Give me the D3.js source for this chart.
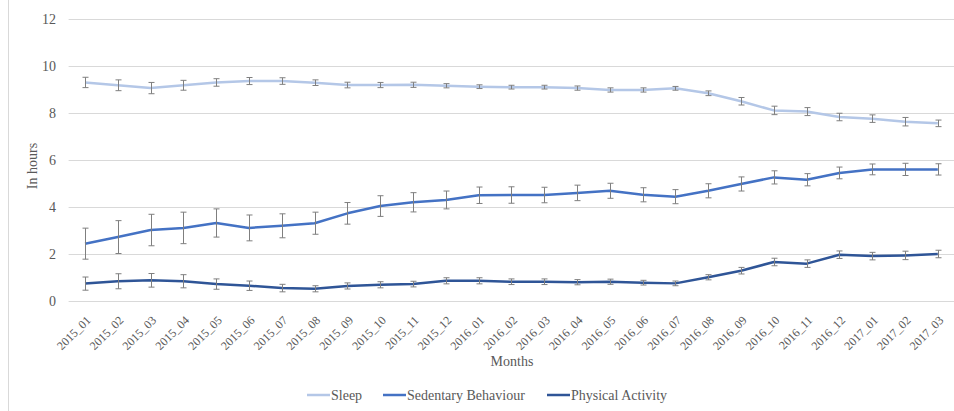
<!DOCTYPE html>
<html>
<head>
<meta charset="utf-8">
<script src="https://cdn.jsdelivr.net/npm/d3@7"></script>
<style>
  html, body { margin: 0; padding: 0; background: #fff; }
  svg { display: block; font-family: "Liberation Serif", "Times New Roman", serif; }
</style>
</head>
<body>
<svg id="chart" width="954" height="411"></svg>
<script>
// Monthly categories
const months = [
  "2015_01","2015_02","2015_03","2015_04","2015_05","2015_06","2015_07","2015_08","2015_09",
  "2015_10","2015_11","2015_12","2016_01","2016_02","2016_03","2016_04","2016_05","2016_06",
  "2016_07","2016_08","2016_09","2016_10","2016_11","2016_12","2017_01","2017_02","2017_03"
];

// Mean hours per month
const sleep = [9.30,9.18,9.06,9.18,9.30,9.36,9.36,9.29,9.19,9.19,9.20,9.16,9.12,9.10,9.10,9.06,8.98,8.98,
               9.05,8.84,8.50,8.11,8.06,7.83,7.76,7.63,7.56];
const sedentary = [2.44,2.72,3.02,3.11,3.32,3.11,3.20,3.31,3.73,4.04,4.20,4.30,4.50,4.51,4.51,4.60,4.69,4.52,
                   4.44,4.69,4.98,5.26,5.16,5.45,5.60,5.60,5.60];
const physical = [0.74,0.84,0.88,0.84,0.72,0.65,0.55,0.52,0.64,0.69,0.72,0.86,0.86,0.82,0.82,0.80,0.82,0.78,
                  0.75,1.01,1.29,1.66,1.59,1.97,1.91,1.94,2.00];

// Error margins (half-widths) per month
const sleepErr = [0.22,0.23,0.24,0.21,0.16,0.15,0.14,0.12,0.12,0.11,0.11,0.09,0.08,0.08,0.08,0.09,0.09,0.09,
                  0.08,0.10,0.16,0.18,0.17,0.16,0.16,0.18,0.14];
const sedentaryErr = [0.66,0.70,0.67,0.67,0.60,0.55,0.51,0.47,0.46,0.44,0.41,0.38,0.35,0.35,0.33,0.33,0.32,0.30,
                      0.30,0.30,0.30,0.28,0.26,0.25,0.23,0.26,0.24];
const physicalErr = [0.28,0.32,0.29,0.28,0.22,0.20,0.16,0.13,0.13,0.13,0.12,0.13,0.13,0.12,0.12,0.11,0.11,0.10,
                     0.10,0.11,0.14,0.16,0.16,0.16,0.16,0.18,0.16];

const yTicks = [0, 2, 4, 6, 8, 10, 12];
const seriesNames = ["Sleep", "Sedentary Behaviour", "Physical Activity"];
const seriesColors = ["#b4c7e7", "#4472c4", "#2f5597"];

const series = [
  { name: seriesNames[0], values: sleep, err: sleepErr, color: seriesColors[0] },
  { name: seriesNames[1], values: sedentary, err: sedentaryErr, color: seriesColors[1] },
  { name: seriesNames[2], values: physical, err: physicalErr, color: seriesColors[2] }
];

const svg = d3.select("#chart");
const textColor = "#595959";

// Outer chart frame edge
svg.append("line").attr("x1", 8.5).attr("x2", 8.5).attr("y1", 0).attr("y2", 411)
  .attr("stroke", "#d9d9d9").attr("stroke-width", 1);

const plot = { left: 68.6, right: 954.2, top: 19, bottom: 301 };

const x = d3.scalePoint().domain(months).range([plot.left, plot.right]).padding(0.5);
const y = d3.scaleLinear().domain([0, 12]).range([plot.bottom, plot.top]);

// Horizontal gridlines
svg.append("g").selectAll("line").data(yTicks).join("line")
  .attr("x1", plot.left).attr("x2", plot.right)
  .attr("y1", d => Math.round(y(d)) + 0.5).attr("y2", d => Math.round(y(d)) + 0.5)
  .attr("stroke", "#d9d9d9").attr("stroke-width", 1);

// Y axis labels
const yAxis = d3.axisLeft(y).tickValues(yTicks).tickSize(0).tickPadding(0);
svg.append("g").attr("transform", `translate(56,0)`).call(yAxis)
  .call(g => g.select(".domain").remove())
  .call(g => g.selectAll("text").attr("fill", textColor).attr("font-size", 14)
    .attr("font-family", "Liberation Serif, serif"));

// X axis labels, rotated
const xAxis = d3.axisBottom(x).tickSize(0).tickPadding(0);
svg.append("g").attr("transform", `translate(0,${plot.bottom})`).call(xAxis)
  .call(g => g.select(".domain").remove())
  .call(g => g.selectAll("text")
    .attr("fill", textColor).attr("font-size", 12)
    .attr("font-family", "Liberation Serif, serif")
    .attr("text-anchor", "end")
    .attr("dy", "0.35em")
    .attr("transform", "translate(3,17) rotate(-45)"));

// Axis titles
svg.append("text").attr("transform", `translate(37,166) rotate(-90)`)
  .attr("text-anchor", "middle").attr("fill", textColor).attr("font-size", 14)
  .text("In hours");
svg.append("text").attr("x", 512).attr("y", 366)
  .attr("text-anchor", "middle").attr("fill", textColor).attr("font-size", 14)
  .text("Months");

// Series lines
const line = d3.line().x((d, i) => x(months[i])).y(d => y(d));
svg.append("g").selectAll("path").data(series).join("path")
  .attr("d", s => line(s.values))
  .attr("fill", "none")
  .attr("stroke", s => s.color)
  .attr("stroke-width", 2.5)
  .attr("stroke-linejoin", "round");

// Error bars
const errG = svg.append("g").attr("stroke", "#7f7f7f").attr("stroke-width", 1).attr("fill", "none");
series.forEach(s => {
  s.values.forEach((v, i) => {
    const cx = Math.round(x(months[i])) + 0.5;
    const y1 = y(v + s.err[i]), y2 = y(v - s.err[i]);
    errG.append("line").attr("x1", cx).attr("x2", cx).attr("y1", y1).attr("y2", y2);
    errG.append("line").attr("x1", cx - 3).attr("x2", cx + 3).attr("y1", y1).attr("y2", y1);
    errG.append("line").attr("x1", cx - 3).attr("x2", cx + 3).attr("y1", y2).attr("y2", y2);
  });
});

// Legend
const legendItems = [
  { name: seriesNames[0], color: seriesColors[0], x: 307 },
  { name: seriesNames[1], color: seriesColors[1], x: 383 },
  { name: seriesNames[2], color: seriesColors[2], x: 547 }
];
const lg = svg.append("g").selectAll("g").data(legendItems).join("g")
  .attr("transform", d => `translate(${d.x},395)`);
lg.append("line").attr("x1", 0).attr("x2", 23).attr("y1", 0).attr("y2", 0)
  .attr("stroke", d => d.color).attr("stroke-width", 2.5);
lg.append("text").attr("x", 24).attr("y", 0).attr("dy", "0.35em")
  .attr("fill", textColor).attr("font-size", 14).text(d => d.name);
</script>
</body>
</html>
